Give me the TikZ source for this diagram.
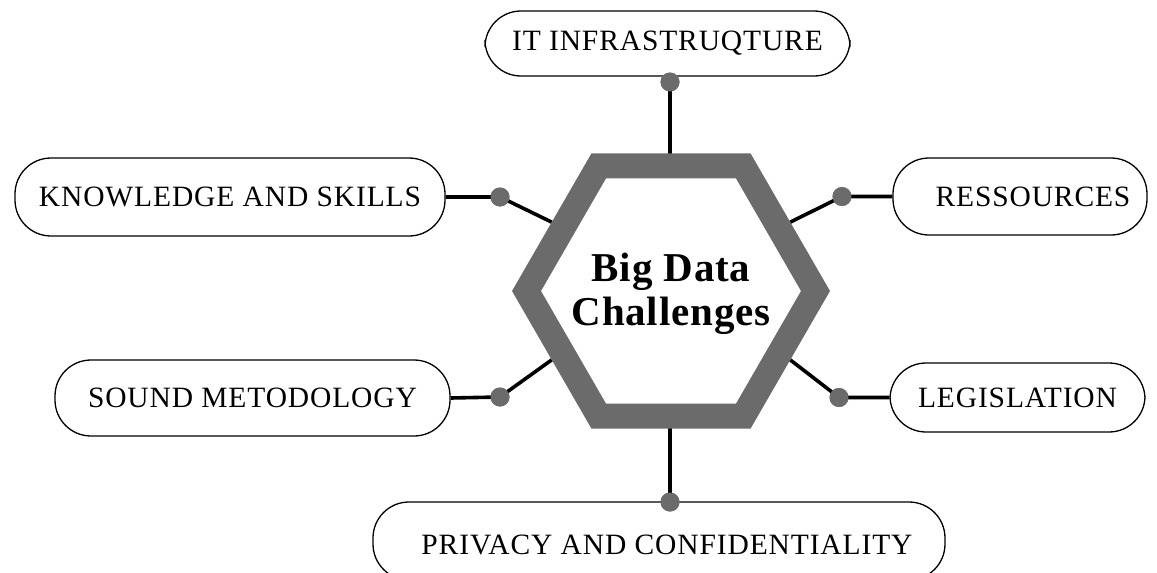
\documentclass[tikz,border=0pt]{standalone}
\usepackage{fontspec}
\setmainfont{Liberation Serif}
\newfontfamily\boxfont[LetterSpace=3]{Liberation Serif}
\newfontfamily\titlefont[LetterSpace=2]{Liberation Serif}
\definecolor{hexgray}{HTML}{6B6B6B}
\begin{document}
\begin{tikzpicture}[x=1pt,y=-1pt,
  box/.style={draw=black,line width=1.3pt,rounded corners=36pt,inner sep=0pt,font=\boxfont\fontsize{29.5}{36}\selectfont},
  boxtext/.style={font=\boxfont\fontsize{29.5}{36}\selectfont},
  conn/.style={draw=black,line width=3.6pt},
  dot/.style={circle,fill=hexgray,minimum size=19pt,inner sep=0pt},
  title/.style={font=\titlefont\fontsize{41}{44}\selectfont\bfseries,align=center}]
\useasboundingbox (0,0) rectangle (1157,573);
\clip (0,0) rectangle (1157,573);
% boxes
\node[box,minimum width=365pt,minimum height=65pt] (it) at (667.5,43.5) {IT INFRASTRUQTURE};
\node[box,minimum width=430pt,minimum height=78pt] (ks) at (230,197) {KNOWLEDGE AND SKILLS};
\node[box,minimum width=254pt,minimum height=77pt] (res) at (1020,196.5) {\hspace*{26pt}RESSOURCES};
\node[box,minimum width=395pt,minimum height=76pt] (sm) at (252.5,398) {SOUND METODOLOGY};
\node[box,minimum width=255pt,minimum height=69pt] (leg) at (1017.5,397.5) {LEGISLATION};
\node[box,minimum width=572pt,minimum height=78pt] (priv) at (659,541) {};
\node[boxtext] (privtext) at (667,545) {PRIVACY AND CONFIDENTIALITY};
% dots
\node[dot] (dit) at (670,82) {};
\node[dot] (dks) at (500,197) {};
\node[dot] (dres) at (842,196.5) {};
\node[dot] (dsm) at (500,397) {};
\node[dot] (dleg) at (839,397.5) {};
\node[dot] (dpriv) at (670,502) {};
% hexagon anchor coordinates
\coordinate (htop) at (670,160);
\coordinate (hbot) at (670,425);
\coordinate (eul) at (551.75,222.15);
\coordinate (eur) at (790.25,222.15);
\coordinate (ell) at (551.75,359.85);
\coordinate (elr) at (790.25,359.85);
% connectors
\draw[conn] (dit.center) -- (htop);
\draw[conn] (ks.east) -- (dks.center) -- (eul);
\draw[conn] (res.west) -- (dres.center) -- (eur);
\draw[conn] (sm.east) -- (dsm.center) -- (ell);
\draw[conn] (leg.west) -- (dleg.center) -- (elr);
\draw[conn] (hbot) -- (dpriv.center);
% hexagon ring
\fill[hexgray,even odd rule]
  (830,291) -- (750.5,153.3) -- (591.5,153.3) -- (512,291) -- (591.5,428.7) -- (750.5,428.7) -- cycle
  (801,291) -- (736,178.4) -- (606,178.4) -- (541,291) -- (606,403.6) -- (736,403.6) -- cycle;
% dots on top of the connectors
\node[dot] at (dit) {};
\node[dot] at (dks) {};
\node[dot] at (dres) {};
\node[dot] at (dsm) {};
\node[dot] at (dleg) {};
\node[dot] at (dpriv) {};
\node[title] (bdc) at (671,294) {Big Data\\Challenges};
\end{tikzpicture}
\end{document}
